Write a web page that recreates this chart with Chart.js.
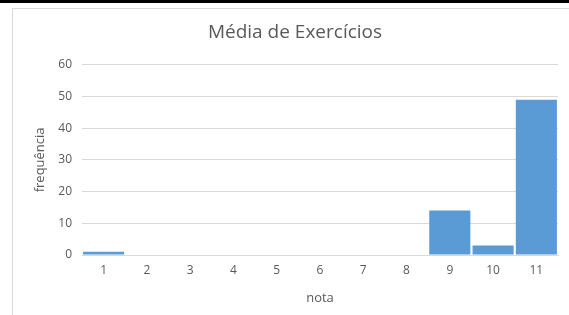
<!DOCTYPE html>
<html>
<head>
<meta charset="utf-8">
<script src="https://cdn.jsdelivr.net/npm/chart.js@4"></script>
<style>
  body { margin: 0; background: #fff; }
  #wrap { position: relative; width: 569px; height: 315px; overflow: hidden; }
  #topbar { position: absolute; left: 0; top: 0; width: 569px; height: 3px; background: #000; }
  #frame { position: absolute; left: 12px; top: 8px; width: 600px; height: 400px; border: 1px solid #d9d9d9; }
  #grafico { position: absolute; left: 0; top: 0; }
</style>
</head>
<body>
<div id="wrap">
  <div id="topbar"></div>
  <div id="frame"></div>
  <canvas id="grafico" width="569" height="315"></canvas>
</div>
<script>
// notas (categorias) e frequências
const notas = ['1', '2', '3', '4', '5', '6', '7', '8', '9', '10', '11'];
const frequencias = [1, 0, 0, 0, 0, 0, 0, 0, 14, 3, 49];
const yTicks = [0, 10, 20, 30, 40, 50, 60];

const corTexto = '#595959';
const fonte = 'Open Sans';

const config = {
    type: 'bar',
    data: {
        labels: notas,
        datasets: [{
            label: 'frequência',
            data: frequencias,
            backgroundColor: '#5b9bd5',
            borderWidth: 0,
            categoryPercentage: 1,
            barPercentage: 0.95,
        }],
    },
    options: {
        responsive: false,
        animation: false,
        layout: { padding: { left: 32, right: 11, top: 0, bottom: 9 } },
        plugins: {
            legend: { display: false },
            tooltip: { enabled: false },
            title: {
                display: true,
                text: 'Média de Exercícios',
                color: corTexto,
                font: { family: fonte, size: 19, weight: 'normal' },
                padding: { top: 21, bottom: 21 },
            },
        },
        scales: {
            x: {
                grid: { display: false, drawTicks: false },
                border: { color: '#d9d9d9' },
                ticks: { color: corTexto, font: { family: fonte, size: 12 }, padding: 8 },
                title: {
                    display: true, text: 'nota', color: corTexto,
                    font: { family: fonte, size: 13 }, padding: { top: 5, bottom: 0 },
                },
            },
            y: {
                min: 0,
                max: 60,
                afterBuildTicks: (scale) => { scale.ticks = yTicks.map(v => ({ value: v })); },
                afterFit: (scale) => { scale.width = 82 - 32; },
                grid: { color: '#d9d9d9', drawTicks: false },
                border: { display: false },
                ticks: { color: corTexto, font: { family: fonte, size: 12 }, padding: 10 },
                title: {
                    display: true, text: 'frequência', color: corTexto,
                    font: { family: fonte, size: 13 }, padding: 0,
                },
            },
        },
    },
};

const ctx = document.getElementById('grafico');
window.meuGrafico = new Chart(ctx, config);
</script>
</body>
</html>
